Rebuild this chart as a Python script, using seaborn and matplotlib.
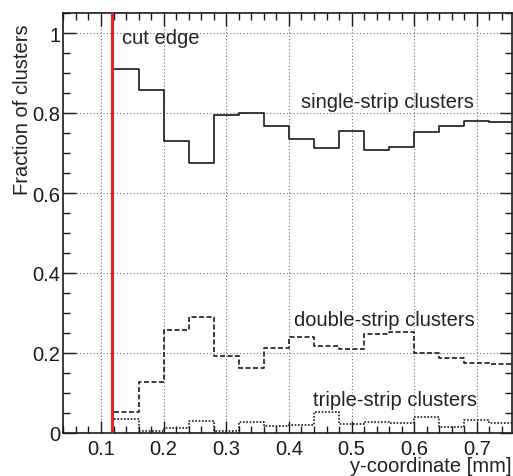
import numpy as np
import pandas as pd
import matplotlib
matplotlib.use("Agg")
import matplotlib.pyplot as plt
from matplotlib.ticker import MultipleLocator, FuncFormatter
import seaborn as sns

# ---- data ----
bin_edges = [0.12, 0.16, 0.20, 0.24, 0.28, 0.32, 0.36, 0.40, 0.44,
             0.48, 0.52, 0.56, 0.60, 0.64, 0.68, 0.72, 0.76]
single_strip = [0.910, 0.858, 0.729, 0.674, 0.796, 0.800, 0.768, 0.734,
                0.713, 0.755, 0.708, 0.716, 0.753, 0.768, 0.780, 0.777]
double_strip = [0.053, 0.128, 0.258, 0.290, 0.193, 0.163, 0.213, 0.241,
                0.218, 0.211, 0.247, 0.253, 0.200, 0.188, 0.175, 0.173]
triple_strip = [0.035, 0.006, 0.013, 0.030, 0.004, 0.028, 0.018, 0.020,
                0.052, 0.023, 0.028, 0.024, 0.041, 0.014, 0.033, 0.025]
cut_edge = 0.118
x_ticks = [0.1, 0.2, 0.3, 0.4, 0.5, 0.6, 0.7]
y_ticks = [0, 0.2, 0.4, 0.6, 0.8, 1.0]
labels = {
    "cut": "cut edge",
    "single": "single-strip clusters",
    "double": "double-strip clusters",
    "triple": "triple-strip clusters",
}

sns.set_style("ticks")
plt.rcParams["font.family"] = ["Liberation Sans", "DejaVu Sans"]
FS = 14.5

fig = plt.figure(figsize=(5.13, 4.77), dpi=100)
ax = fig.add_axes([63 / 513, 1 - 434 / 477, (512 - 63) / 513, (434 - 14) / 477])

edges = np.array(bin_edges)
centers = (edges[:-1] + edges[1:]) / 2
df = pd.DataFrame({"y": centers, "single": single_strip,
                   "double": double_strip, "triple": triple_strip})

ax.grid(True, which="major", linestyle=(0, (1, 2)), color="#707070", linewidth=0.8, zorder=0)
ax.set_axisbelow(True)

styles = {"single": "-", "double": (0, (3, 1.5)), "triple": (0, (1, 1))}
for key in ["single", "double", "triple"]:
    sns.histplot(data=df, x="y", weights=key, bins=list(bin_edges), element="step",
                 fill=False, color="#1a1a1a", linewidth=1.2, linestyle=styles[key], ax=ax)

ax.axvline(cut_edge, color="#e8202a", linewidth=2.2, zorder=5)

ax.text(0.133, 0.99, labels["cut"], fontsize=FS, va="center", ha="left", color="#222222")
ax.text(0.4185, 0.828, labels["single"], fontsize=FS, va="center", ha="left", color="#222222")
ax.text(0.408, 0.285, labels["double"], fontsize=FS, va="center", ha="left", color="#222222")
ax.text(0.4377, 0.083, labels["triple"], fontsize=FS, va="center", ha="left", color="#222222")

ax.set_xlim(0.0394, 0.756)
ax.set_ylim(0, 1.05)
ax.set_xticks(x_ticks)
ax.set_yticks(y_ticks)
ax.xaxis.set_minor_locator(MultipleLocator(0.02))
ax.yaxis.set_minor_locator(MultipleLocator(0.05))
ax.yaxis.set_major_formatter(FuncFormatter(lambda v, p: "%g" % v))
ax.xaxis.set_major_formatter(FuncFormatter(lambda v, p: "%g" % v))

ax.tick_params(which="both", direction="in", top=True, right=True, labelsize=FS,
               colors="#1a1a1a", width=1.0)
ax.tick_params(which="major", length=9)
ax.tick_params(which="minor", length=5)
ax.tick_params(axis="y", pad=2)
ax.tick_params(axis="x", pad=4)

for s in ax.spines.values():
    s.set_linewidth(1.2)
    s.set_color("#1a1a1a")

ax.set_xlabel("y-coordinate [mm]", fontsize=FS, loc="right", color="#222222")
ax.set_ylabel("Fraction of clusters", fontsize=FS, loc="top", color="#222222")
ax.xaxis.set_label_coords(1.0, -0.055)
ax.yaxis.set_label_coords(-0.07, 0.975)

fig.savefig("out.png", dpi=100)
